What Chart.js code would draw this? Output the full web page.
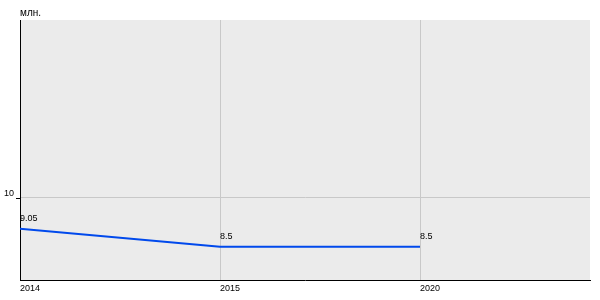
<!DOCTYPE html>
<html>
<head>
<meta charset="utf-8">
<script src="https://cdn.jsdelivr.net/npm/chart.js@4"></script>
<style>
html,body{margin:0;padding:0;background:#fff;}
#wrap{width:600px;height:300px;position:relative;}
</style>
</head>
<body>
<div id="wrap"><canvas id="c" width="600" height="300"></canvas></div>
<script>
const categories = ['2014', '2015', '2020'];
const values = [9.05, 8.5, 8.5];
const yTickValues = [10];
const yTickLabels = ['10'];
const unitLabel = 'млн.';

const FONT = '9px "Liberation Sans", Arial, sans-serif';

const bgPlugin = {
  id: 'bg',
  beforeDraw(chart) {
    const {ctx, chartArea: a} = chart;
    ctx.save();
    ctx.fillStyle = '#ebebeb';
    ctx.fillRect(a.left, a.top, a.right - a.left, a.bottom - a.top);
    ctx.restore();
  }
};

const textPlugin = {
  id: 'texts',
  afterDraw(chart) {
    const {ctx, chartArea: a} = chart;
    const xs = chart.scales.x, ys = chart.scales.y;
    ctx.save();
    ctx.fillStyle = '#000';
    ctx.font = '10px "Liberation Sans", Arial, sans-serif';
    ctx.textAlign = 'left';
    ctx.textBaseline = 'alphabetic';
    ctx.fillText(unitLabel, a.left, 16);
    ctx.font = FONT;
    ctx.textBaseline = 'middle';
    categories.forEach((c, i) => {
      ctx.fillText(c, xs.getPixelForValue(i), 289);
    });
    ctx.textAlign = 'right';
    yTickValues.forEach((v, i) => {
      const py = ys.getPixelForValue(v);
      ctx.fillText(yTickLabels[i], a.left - 6, py - 4);
      ctx.strokeStyle = '#000';
      ctx.lineWidth = 1;
      ctx.beginPath();
      ctx.moveTo(a.left - 4, Math.round(py) + 0.5);
      ctx.lineTo(a.left, Math.round(py) + 0.5);
      ctx.stroke();
    });
    ctx.textAlign = 'left';
    const meta = chart.getDatasetMeta(0);
    meta.data.forEach((pt, i) => {
      ctx.fillText(String(values[i]), pt.x, pt.y - 10);
    });
    ctx.restore();
  }
};

new Chart(document.getElementById('c'), {
  type: 'line',
  data: {
    datasets: [{
      data: values.map((v, i) => ({x: i, y: v})),
      borderColor: '#0049ec',
      borderWidth: 2,
      pointRadius: 0,
      tension: 0,
      fill: false
    }]
  },
  options: {
    responsive: false,
    animation: false,
    layout: {padding: {left: 20, top: 20, right: 10, bottom: 20}},
    plugins: {legend: {display: false}, tooltip: {enabled: false}},
    scales: {
      x: {
        type: 'linear',
        min: 0,
        max: 2.85,
        afterBuildTicks(s) { s.ticks = categories.map((c, i) => ({value: i})); },
        afterFit(s) { s.height = 0; },
        ticks: {display: false},
        grid: {color: '#c8c8c8', drawTicks: false, lineWidth: 1},
        border: {display: true, color: '#000', width: 1}
      },
      y: {
        type: 'linear',
        min: 7.48,
        max: 15.43,
        afterBuildTicks(s) { s.ticks = yTickValues.map(v => ({value: v})); },
        afterFit(s) { s.width = 0; },
        ticks: {display: false},
        grid: {color: '#c8c8c8', drawTicks: false, lineWidth: 1},
        border: {display: true, color: '#000', width: 1}
      }
    }
  },
  plugins: [bgPlugin, textPlugin]
});
</script>
</body>
</html>
